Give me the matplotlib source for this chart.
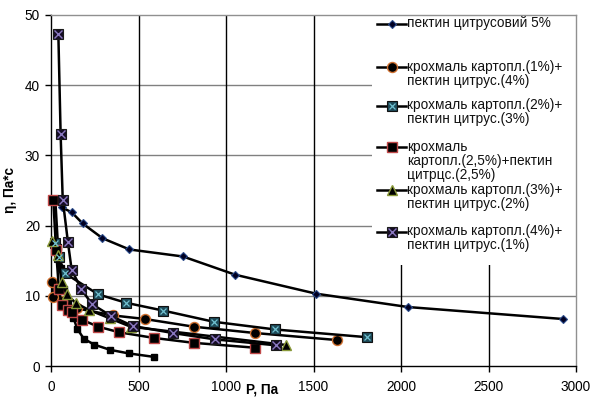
import matplotlib
matplotlib.use("Agg")
import matplotlib.pyplot as plt
from matplotlib.patches import Rectangle

plt.rcParams['font.family'] = ['Liberation Sans', 'DejaVu Sans']

# ---- data ----
p_pectin5 = [61, 118, 181, 294, 448, 754, 1053, 1515, 2040, 2923]
e_pectin5 = [22.6, 21.9, 20.3, 18.2, 16.6, 15.6, 13.0, 10.3, 8.4, 6.7]

p_small = [25, 40, 55, 75, 95, 110, 128, 150, 187, 246, 338, 443, 588]
e_small = [23.5, 17.0, 14.0, 11.0, 9.0, 8.0, 6.9, 5.3, 3.9, 3.05, 2.3, 1.8, 1.3]

p_s1 = [8, 10, 60, 150, 355, 535, 815, 1165, 1633]
e_s1 = [11.9, 9.9, 9.2, 8.2, 7.2, 6.7, 5.6, 4.7, 3.7]

p_s2 = [20, 45, 80, 270, 430, 640, 930, 1282, 1807]
e_s2 = [17.5, 15.5, 13.2, 10.2, 9.0, 7.9, 6.3, 5.2, 4.1]

p_s25 = [13, 29, 45, 61, 95, 122, 175, 270, 390, 588, 815, 1168]
e_s25 = [23.7, 16.5, 11.0, 8.7, 8.0, 7.7, 6.6, 5.6, 4.8, 4.0, 3.3, 2.6]

p_s3 = [5, 40, 60, 90, 140, 215, 335, 455, 1340]
e_s3 = [17.8, 15.8, 12.0, 10.2, 9.0, 8.0, 6.8, 5.6, 3.0]

p_s4 = [42, 55, 67, 97, 118, 174, 235, 345, 467, 696, 935, 1285]
e_s4 = [47.3, 33.0, 23.7, 17.6, 13.7, 10.9, 8.8, 7.1, 5.7, 4.7, 3.8, 2.95]

labels = [
    "пектин цитрусовий 5%",
    "крохмаль картопл.(1%)+\nпектин цитрус.(4%)",
    "крохмаль картопл.(2%)+\nпектин цитрус.(3%)",
    "крохмаль\nкартопл.(2,5%)+пектин\nцитрцс.(2,5%)",
    "крохмаль картопл.(3%)+\nпектин цитрус.(2%)",
    "крохмаль картопл.(4%)+\nпектин цитрус.(1%)",
]
xticks = [0, 500, 1000, 1500, 2000, 2500, 3000]
yticks = [0, 10, 20, 30, 40, 50]

W, H = 593, 398
fig = plt.figure(figsize=(W / 100, H / 100), dpi=100)
L, R, T, B = 51, 576, 15, 366
ax = fig.add_axes([L / W, 1 - B / H, (R - L) / W, (B - T) / H])
ax.set_xlim(0, 3000)
ax.set_ylim(0, 50)

def axc(px, py):
    return (px - L) / (R - L), (B - py) / (B - T)

# grid
for y in [10, 20, 30, 40]:
    ax.axhline(y, color='#808080', lw=1.0, zorder=1)
for x in [500, 1000, 1500, 2000, 2500]:
    ax.axvline(x, color='black', lw=1.0, zorder=1)

# legend background
lx0, ly0 = axc(372, 265)
ax.add_patch(Rectangle((lx0, ly0), 1 - lx0, 1 - ly0, transform=ax.transAxes,
                       facecolor='white', edgecolor='none', zorder=1.5))

lw = 1.8
styles = [
    dict(marker='D', ms=4.5, mfc='#000022', mec='#2a4a8a', mew=0.8),
    dict(marker='o', ms=7.2, mfc='black', mec='#d07030', mew=1.0),
    dict(marker='s', ms=6.8, mfc='#1d4a58', mec='#111111', mew=0.8),
    dict(marker='s', ms=7.2, mfc='black', mec='#c04848', mew=1.0),
    dict(marker='^', ms=7.2, mfc='black', mec='#8a9a3a', mew=1.0),
    dict(marker='s', ms=6.8, mfc='#150d25', mec='#1a1a1a', mew=0.8),
]
overlay = [None, None, dict(marker='x', ms=4.5, mec='#70c0d0', mew=0.9),
           None, None, dict(marker='x', ms=5.5, mec='#8a78c0', mew=1.0)]

series = [(p_pectin5, e_pectin5), (p_s1, e_s1), (p_s2, e_s2),
          (p_s25, e_s25), (p_s3, e_s3), (p_s4, e_s4)]

ax.plot(p_small, e_small, color='black', lw=lw, marker='s', ms=3.8,
        mfc='black', mec='black', zorder=3, clip_on=False)
for (px, py), st, ov in zip(series, styles, overlay):
    ax.plot(px, py, color='black', lw=lw, zorder=3, clip_on=False, **st)
    if ov:
        ax.plot(px, py, ls='none', zorder=3.5, clip_on=False, **ov)

# manual legend
entries_y = [24, 67, 106, 147, 190, 232]
for lab, yy, st, ov in zip(labels, entries_y, styles, overlay):
    x1, y1 = axc(377, yy)
    x2, _ = axc(406, yy)
    xm, _ = axc(391.5, yy)
    ax.plot([x1, x2], [y1, y1], color='black', lw=lw, transform=ax.transAxes, zorder=4)
    ax.plot([xm], [y1], transform=ax.transAxes, zorder=4, ls='none', **st)
    if ov:
        ax.plot([xm], [y1], transform=ax.transAxes, zorder=4.5, ls='none', **ov)
    tx, ty = axc(407, yy - 7.5)
    ax.text(tx, ty, lab, transform=ax.transAxes, ha='left', va='top',
            fontsize=9.8, color='#111111', linespacing=1.0, zorder=5)

# spines
for s in ['top', 'right']:
    ax.spines[s].set_color('#909090')
    ax.spines[s].set_linewidth(1.0)
for s in ['left', 'bottom']:
    ax.spines[s].set_color('black')
    ax.spines[s].set_linewidth(1.0)

ax.set_xticks(xticks)
ax.set_yticks(yticks)
ax.tick_params(axis='both', direction='out', length=4, width=1, labelsize=9.8,
               colors='black', pad=6)
ax.tick_params(axis='y', pad=4)

ax.set_xlabel("P, Па", fontsize=9.8, fontweight='bold')
ax.xaxis.set_label_coords(*axc(262, 382))
ax.set_ylabel("η, Па*с", fontsize=9.8, fontweight='bold')
ax.yaxis.set_label_coords(*axc(17, 190))

fig.savefig("out.png", dpi=100)
